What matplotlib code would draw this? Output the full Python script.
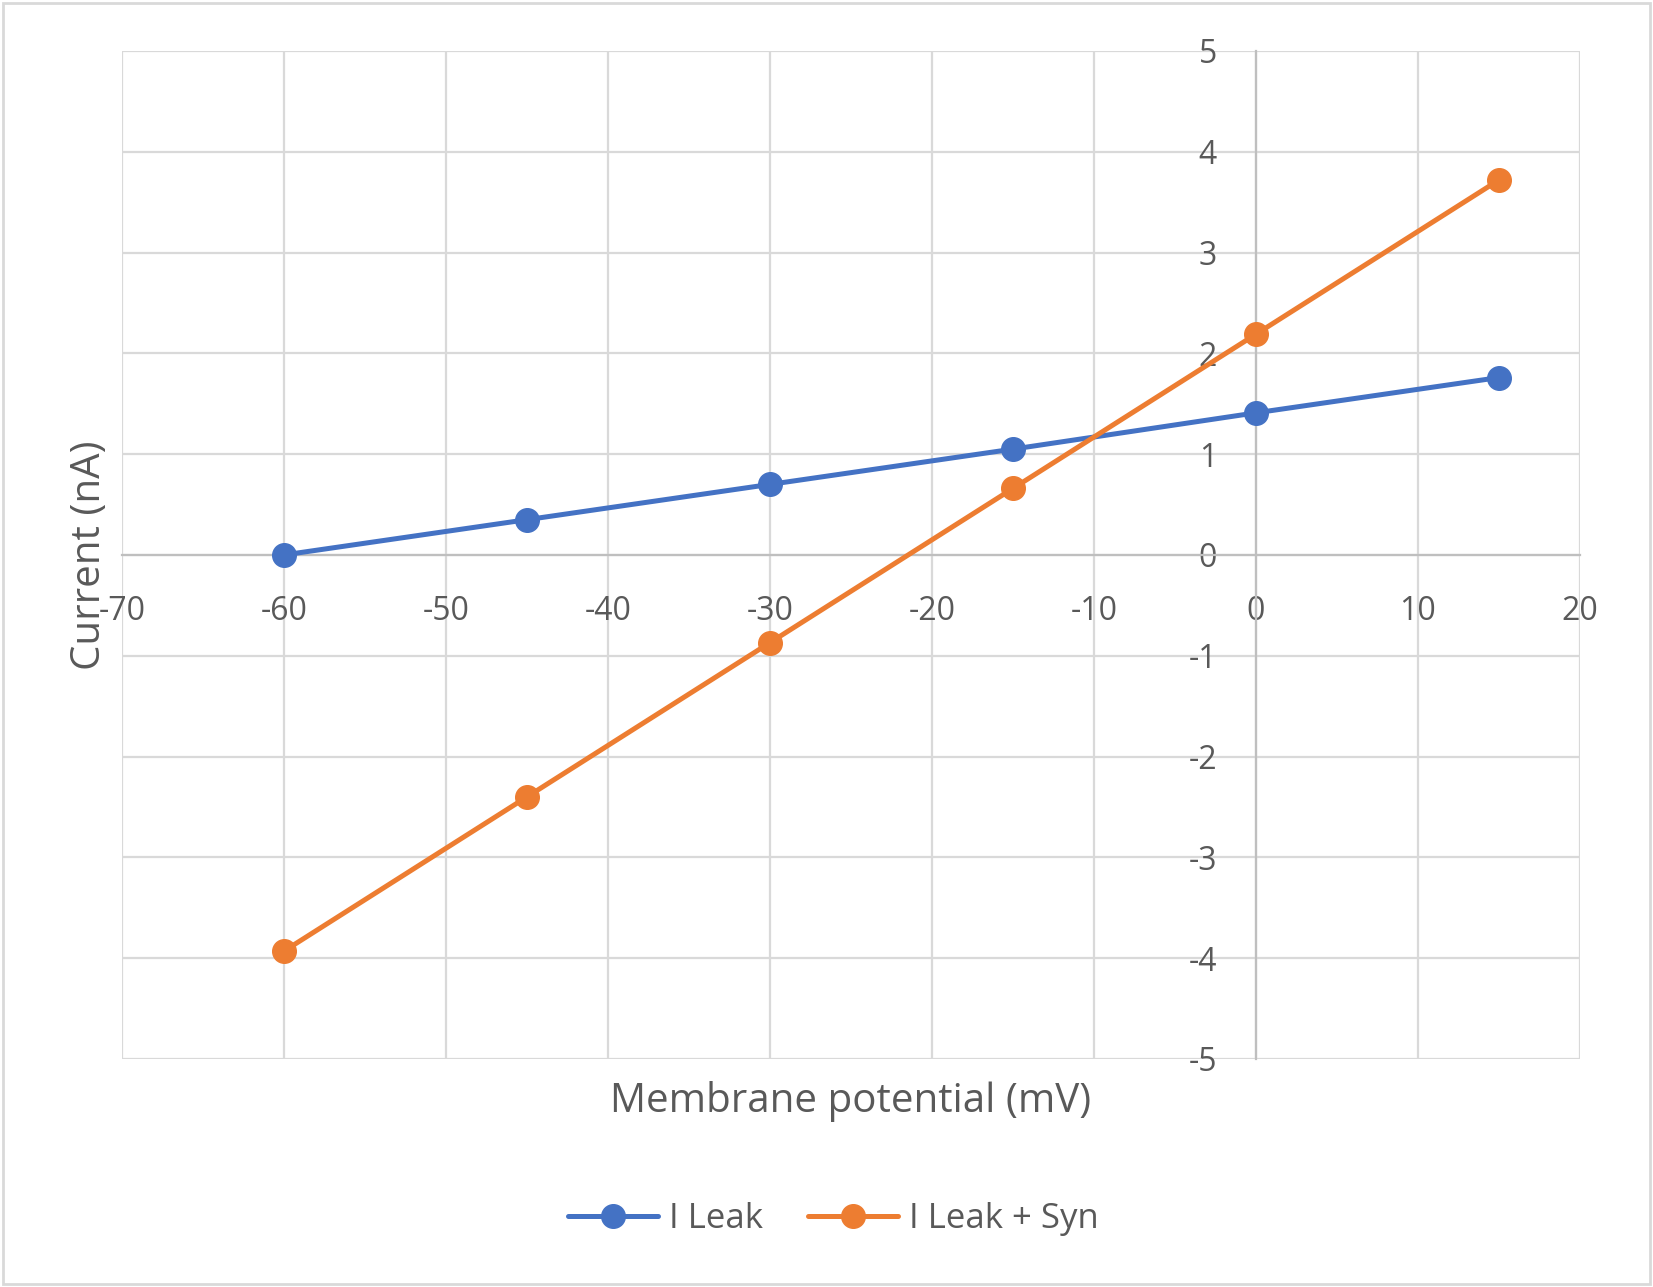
import matplotlib
matplotlib.use("Agg")
import matplotlib.pyplot as plt
from matplotlib.patches import Rectangle

plt.rcParams['font.family'] = ['Open Sans', 'DejaVu Sans']
plt.rcParams['axes.unicode_minus'] = False

# data
potential = [-60, -45, -30, -15, 0, 15]
i_leak = [0.0, 0.35, 0.70, 1.05, 1.41, 1.76]
i_leak_syn = [-3.93, -2.40, -0.87, 0.66, 2.19, 3.72]
x_ticks = list(range(-70, 21, 10))
y_ticks = list(range(-5, 6))

text_col = '#595959'
grid_col = '#d9d9d9'

fig = plt.figure(figsize=(16.53, 12.87), dpi=100)
ax = fig.add_axes([0.0738, 0.1772, 0.882, 0.7832])

ax.plot(potential, i_leak, color='#4472C4', lw=3.6, marker='o', ms=17,
        label='I Leak', zorder=3, solid_capstyle='round')
ax.plot(potential, i_leak_syn, color='#ED7D31', lw=3.6, marker='o', ms=17,
        label='I Leak + Syn', zorder=3, solid_capstyle='round')

ax.set_xlim(-70, 20)
ax.set_ylim(-5, 5)
ax.set_xticks(x_ticks)
ax.set_yticks(y_ticks)
ax.grid(True, color=grid_col, lw=1.6)
ax.set_axisbelow(True)

# axes cross at the origin, like the spreadsheet chart
for side in ['top', 'right']:
    ax.spines[side].set_visible(False)
ax.spines['left'].set_position(('data', 0))
ax.spines['bottom'].set_position(('data', 0))
for side in ['left', 'bottom']:
    ax.spines[side].set_color('#bfbfbf')
    ax.spines[side].set_linewidth(1.6)
    ax.spines[side].set_zorder(1)

ax.tick_params(axis='both', length=0, labelsize=23, labelcolor=text_col)
ax.tick_params(axis='x', pad=29)
ax.tick_params(axis='y', pad=28)

ax.text(-0.022, 0.5, 'Current (nA)', transform=ax.transAxes, rotation=90,
        ha='center', va='center', fontsize=29, color=text_col)
ax.text(0.5, -0.042, 'Membrane potential (mV)', transform=ax.transAxes,
        ha='center', va='center', fontsize=29, color=text_col)

leg = fig.legend(loc='center', bbox_to_anchor=(0.504, 0.053), ncol=2,
                 frameon=False, fontsize=25, handlelength=2.6,
                 columnspacing=1.3, handletextpad=0.3)
for t in leg.get_texts():
    t.set_color(text_col)

fig.patches.append(Rectangle((0.002, 0.002), 0.996, 0.996, transform=fig.transFigure,
                             fill=False, edgecolor=grid_col, lw=2))

fig.savefig('out.png', dpi=100)
